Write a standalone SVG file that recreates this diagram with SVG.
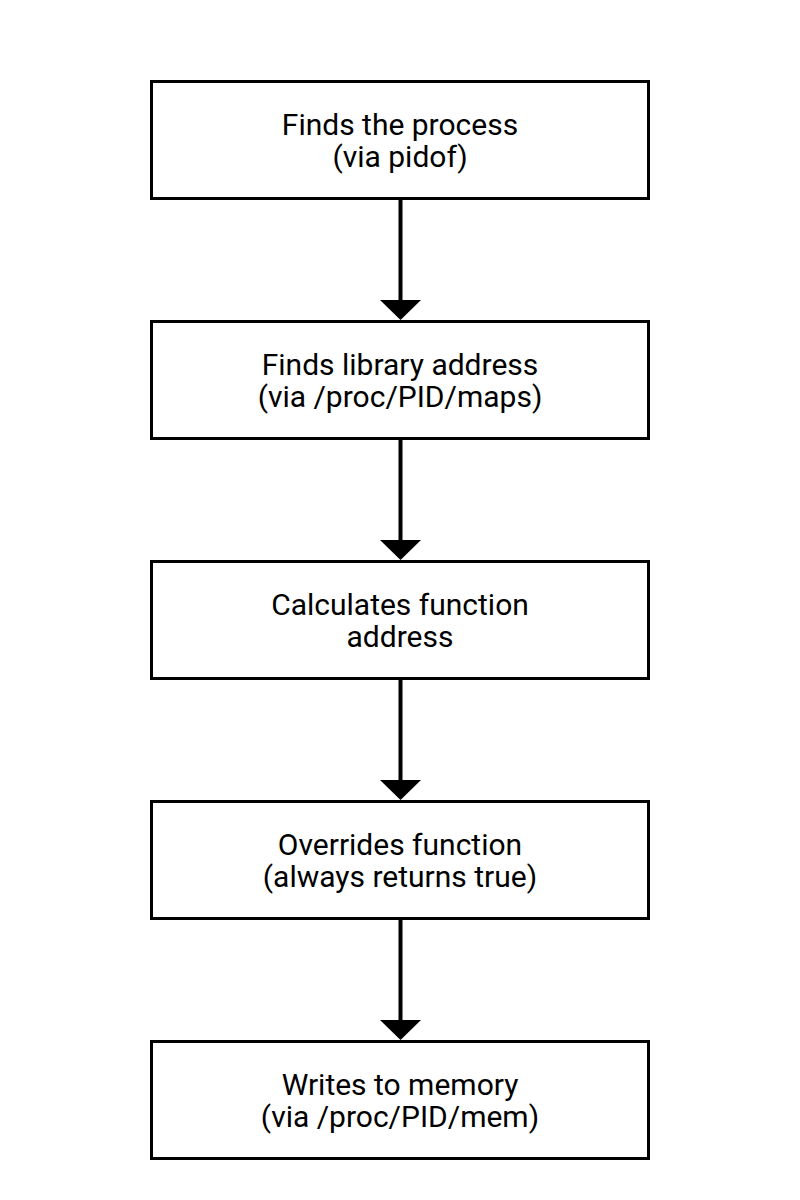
<svg xmlns="http://www.w3.org/2000/svg" width="800" height="1200" viewBox="0 0 800 1200">
<style>
.box{fill:#fff;stroke:#000;stroke-width:3}
.lbl{font-family:Roboto,"Liberation Sans",sans-serif;font-size:30px;fill:#000;text-anchor:middle}
.edge{stroke:#000;stroke-width:4;fill:none}
.head{fill:#000}
</style>
<rect width="800" height="1200" fill="#fff"/>
<g id="connectors">
<line class="edge" x1="400.5" y1="199" x2="400.5" y2="302"/>
<polygon class="head" points="380,300 421,300 400.5,320"/>
<line class="edge" x1="400.5" y1="439" x2="400.5" y2="542"/>
<polygon class="head" points="380,540 421,540 400.5,560"/>
<line class="edge" x1="400.5" y1="679" x2="400.5" y2="782"/>
<polygon class="head" points="380,780 421,780 400.5,800"/>
<line class="edge" x1="400.5" y1="919" x2="400.5" y2="1022"/>
<polygon class="head" points="380,1020 421,1020 400.5,1040"/>
</g>
<g id="n1"><rect class="box" x="151.5" y="81.5" width="497" height="117"/>
<text class="lbl" x="400" y="135">Finds the process</text><text class="lbl" x="400" y="167">(via pidof)</text></g>
<g id="n2"><rect class="box" x="151.5" y="321.5" width="497" height="117"/>
<text class="lbl" x="400" y="375">Finds library address</text><text class="lbl" x="400" y="407">(via /proc/PID/maps)</text></g>
<g id="n3"><rect class="box" x="151.5" y="561.5" width="497" height="117"/>
<text class="lbl" x="400" y="615">Calculates function</text><text class="lbl" x="400" y="647">address</text></g>
<g id="n4"><rect class="box" x="151.5" y="801.5" width="497" height="117"/>
<text class="lbl" x="400" y="855">Overrides function</text><text class="lbl" x="400" y="887">(always returns true)</text></g>
<g id="n5"><rect class="box" x="151.5" y="1041.5" width="497" height="117"/>
<text class="lbl" x="400" y="1095">Writes to memory</text><text class="lbl" x="400" y="1127">(via /proc/PID/mem)</text></g>
</svg>
